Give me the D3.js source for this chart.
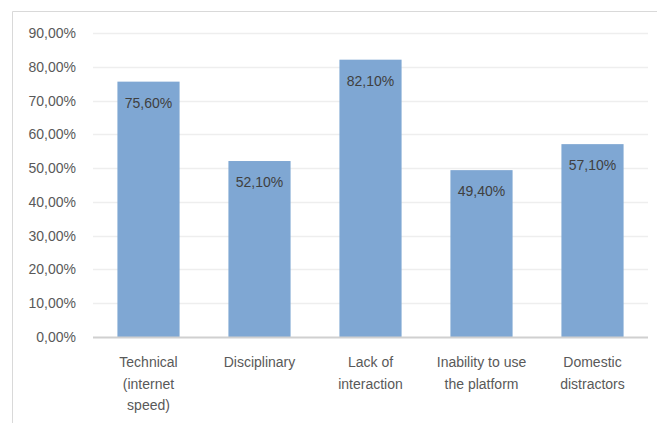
<!DOCTYPE html>
<html><head><meta charset="utf-8">
<script src="https://cdn.jsdelivr.net/npm/d3@7"></script>
<style>body{margin:0;background:#fff}svg{display:block}</style>
</head><body>
<svg id="c" width="657" height="423"></svg>
<script>
const categories = [["Technical","(internet","speed)"],["Disciplinary"],["Lack of","interaction"],["Inability to use","the platform"],["Domestic","distractors"]];
const values = [75.6, 52.1, 82.1, 49.4, 57.1];
const yTicks = [0,10,20,30,40,50,60,70,80,90];

const svg = d3.select("#c");
const font = "'Liberation Sans', Arial, sans-serif";
const fmt = v => d3.format(".2f")(v).replace(".", ",") + "%";
const fmt1 = v => d3.format(".1f")(v).replace(".", ",") + "0%";

// chart border
svg.append("path").attr("d","M12.5,423 L12.5,11.5 L657,11.5").attr("fill","none").attr("stroke","#d9d9d9").attr("stroke-width",1);

const x = d3.scaleBand().domain(d3.range(categories.length)).range([93,648]).paddingInner(0.44).paddingOuter(0.22);
const y = d3.scaleLinear().domain([0,90]).range([337,33]);

// gridlines
svg.append("g").selectAll("line").data(yTicks.filter(d=>d>0)).join("line")
  .attr("x1",93).attr("x2",648).attr("y1",d=>Math.round(y(d))+0.5).attr("y2",d=>Math.round(y(d))+0.5)
  .attr("stroke","#eeeeee").attr("stroke-width",1.5);

// y axis labels
const yAxis = d3.axisLeft(y).tickValues(yTicks).tickFormat(fmt).tickSize(0).tickPadding(0);
const ga = svg.append("g").attr("transform","translate(76,0)").call(yAxis);
ga.select(".domain").remove();
ga.selectAll("text").attr("font-family",font).attr("font-size","14px").attr("fill","#595959");

// bars
svg.append("g").selectAll("rect").data(values).join("rect")
  .attr("x",(d,i)=>x(i)).attr("width",x.bandwidth())
  .attr("y",d=>y(d)).attr("height",d=>y(0)-y(d))
  .attr("fill","#7fa7d3");

// data labels
svg.append("g").selectAll("text").data(values).join("text")
  .attr("x",(d,i)=>x(i)+x.bandwidth()/2).attr("y",d=>y(d)+21)
  .attr("text-anchor","middle").attr("dominant-baseline","central")
  .attr("font-family",font).attr("font-size","14px").attr("fill","#404040")
  .text(d=>fmt1(d));

// x axis line
svg.append("line").attr("x1",93).attr("x2",648).attr("y1",337.5).attr("y2",337.5).attr("stroke","#d0d0d0").attr("stroke-width",2);

// x labels
const gx = svg.append("g");
categories.forEach((lines,i)=>{
  const t = gx.append("text").attr("x",x(i)+x.bandwidth()/2).attr("text-anchor","middle")
    .attr("font-family",font).attr("font-size","14px").attr("fill","#595959");
  lines.forEach((l,j)=>t.append("tspan").attr("x",x(i)+x.bandwidth()/2).attr("y",362+j*21.5).attr("dominant-baseline","central").text(l));
});
</script>
</body></html>
